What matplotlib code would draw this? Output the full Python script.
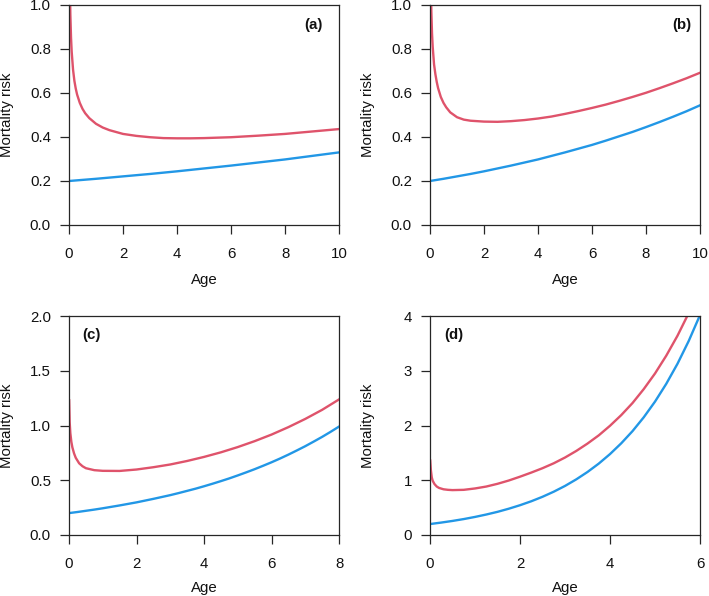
import matplotlib
matplotlib.use('Agg')
import matplotlib.pyplot as plt

plt.rcParams['font.family'] = ['Liberation Sans', 'DejaVu Sans']

RED = '#DF536B'
BLUE = '#2297E6'

# panel (a)
a_red_x = [0.03, 0.05, 0.075, 0.1, 0.15, 0.2, 0.25, 0.3, 0.4, 0.5, 0.6, 0.75, 1.0, 1.25, 1.5,
           2.0, 2.5, 3.0, 3.5, 4.0, 4.5, 5.0, 6.0, 7.0, 8.0, 9.0, 10.0]
a_red_y = [1.115, 0.958, 0.852, 0.787, 0.706, 0.655, 0.620, 0.593, 0.555, 0.528, 0.508, 0.486, 0.460, 0.443, 0.431,
           0.414, 0.405, 0.399, 0.395, 0.394, 0.394, 0.395, 0.399, 0.406, 0.414, 0.425, 0.436]
a_blue_x = [0, 1, 2, 3, 4, 5, 6, 7, 8, 9, 10]
a_blue_y = [0.200, 0.210, 0.221, 0.232, 0.244, 0.257, 0.270, 0.284, 0.298, 0.314, 0.330]

# panel (b)
b_red_x = [0.03, 0.05, 0.075, 0.1, 0.15, 0.2, 0.25, 0.3, 0.4, 0.5, 0.6, 0.75, 1.0, 1.25, 1.5,
           2.0, 2.5, 3.0, 3.5, 4.0, 4.5, 5.0, 5.5, 6.0, 6.5, 7.0, 7.5, 8.0, 8.5, 9.0, 9.5, 10.0]
b_red_y = [1.12, 0.97, 0.87, 0.81, 0.73, 0.685, 0.650, 0.622, 0.582, 0.555, 0.535, 0.512, 0.490, 0.479, 0.474,
           0.470, 0.469, 0.472, 0.477, 0.484, 0.493, 0.505, 0.518, 0.532, 0.547, 0.564, 0.582, 0.601, 0.622,
           0.644, 0.667, 0.692]
b_blue_x = [0, 0.5, 1, 1.5, 2, 2.5, 3, 3.5, 4, 4.5, 5, 5.5, 6, 6.5, 7, 7.5, 8, 8.5, 9, 9.5, 10]
b_blue_y = [0.200, 0.210, 0.221, 0.232, 0.244, 0.257, 0.270, 0.284, 0.298, 0.314, 0.330, 0.347, 0.364,
            0.383, 0.403, 0.423, 0.445, 0.468, 0.492, 0.517, 0.544]

# panel (c)
c_red_x = [0.005, 0.02, 0.04, 0.07, 0.1, 0.15, 0.2, 0.3, 0.4, 0.5, 0.75, 1.0, 1.5, 2.0, 2.5,
           3.0, 3.5, 4.0, 4.5, 5.0, 5.5, 6.0, 6.5, 7.0, 7.5, 8.0]
c_red_y = [1.23, 1.03, 0.93, 0.85, 0.80, 0.745, 0.705, 0.655, 0.628, 0.610, 0.592, 0.586, 0.585, 0.598, 0.619,
           0.644, 0.676, 0.713, 0.755, 0.803, 0.857, 0.917, 0.985, 1.060, 1.143, 1.238]
c_blue_x = [0, 0.25, 0.5, 0.75, 1, 1.25, 1.5, 1.75, 2, 2.25, 2.5, 2.75, 3, 3.25, 3.5, 3.75, 4,
            4.25, 4.5, 4.75, 5, 5.25, 5.5, 5.75, 6, 6.25, 6.5, 6.75, 7, 7.25, 7.5, 7.75, 8]
c_blue_y = [0.200, 0.210, 0.221, 0.232, 0.244, 0.257, 0.270, 0.284, 0.298, 0.314, 0.330, 0.347, 0.364,
            0.383, 0.403, 0.423, 0.445, 0.468, 0.492, 0.517, 0.544, 0.572, 0.601, 0.632, 0.664, 0.698,
            0.734, 0.772, 0.811, 0.853, 0.896, 0.942, 0.990]

# panel (d)
d_red_x = [0.005, 0.02, 0.04, 0.06, 0.1, 0.15, 0.2, 0.3, 0.4, 0.5, 0.75, 1.0, 1.25, 1.5, 1.75, 2.0,
           2.25, 2.5, 2.75, 3.0, 3.25, 3.5, 3.75, 4.0, 4.25, 4.5, 4.75, 5.0, 5.25, 5.5, 5.75]
d_red_y = [1.36, 1.18, 1.05, 0.99, 0.93, 0.885, 0.86, 0.835, 0.825, 0.820, 0.825, 0.850, 0.885, 0.935,
           0.995, 1.065, 1.14, 1.22, 1.31, 1.415, 1.535, 1.67, 1.82, 1.995, 2.19, 2.41, 2.665, 2.95,
           3.275, 3.64, 4.055]
d_blue_x = [0, 0.25, 0.5, 0.75, 1, 1.25, 1.5, 1.75, 2, 2.25, 2.5, 2.75, 3, 3.25, 3.5, 3.75, 4,
            4.25, 4.5, 4.75, 5, 5.25, 5.5, 5.75, 6]
d_blue_y = [0.200, 0.227, 0.257, 0.291, 0.330, 0.374, 0.423, 0.480, 0.544, 0.616, 0.698, 0.791, 0.896,
            1.016, 1.151, 1.304, 1.478, 1.675, 1.897, 2.150, 2.436, 2.761, 3.128, 3.545, 4.017]

a_xticks = [0, 2, 4, 6, 8, 10]
a_yticks = [0.0, 0.2, 0.4, 0.6, 0.8, 1.0]
c_xticks = [0, 2, 4, 6, 8]
c_yticks = [0.0, 0.5, 1.0, 1.5, 2.0]
d_xticks = [0, 2, 4, 6]
d_yticks = [0, 1, 2, 3, 4]

FS = 10.8
W, H = 709, 596

fig = plt.figure(figsize=(W / 100, H / 100), dpi=100)


def panel(rect, rx, ry, bx, by, xticks, yticks, ylabels, tag, tagpos, agey):
    ax = fig.add_axes(rect)
    ax.plot(bx, by, color=BLUE, lw=1.7, solid_joinstyle='round')
    ax.plot(rx, ry, color=RED, lw=1.7, solid_joinstyle='round')
    ax.set_xlim(xticks[0], xticks[-1])
    ax.set_ylim(yticks[0], yticks[-1])
    ax.set_xticks(xticks)
    ax.set_yticks(yticks)
    ax.set_xticklabels([str(t) for t in xticks])
    ax.set_yticklabels(ylabels)
    for s in ax.spines.values():
        s.set_color('#262626')
        s.set_linewidth(0.9)
    ax.tick_params(axis='both', direction='out', length=6.5, width=0.9, color='#262626',
                   labelsize=FS, labelcolor='#111111')
    ax.tick_params(axis='x', pad=9.2)
    ax.tick_params(axis='y', pad=6.5)
    ax.text(-0.228, 0.5, 'Mortality risk', transform=ax.transAxes, rotation=90,
            ha='center', va='center', fontsize=FS, color='#111111')
    ax.text(0.5, agey, 'Age', transform=ax.transAxes, ha='center', va='center',
            fontsize=FS, color='#111111')
    ax.text(tagpos[0], tagpos[1], tag, transform=ax.transAxes, ha='center', va='center',
            fontsize=FS, fontweight='bold', color='#111111')
    return ax


panel([69 / W, 1 - 225 / H, 270 / W, 220 / H], a_red_x, a_red_y, a_blue_x, a_blue_y,
      a_xticks, a_yticks, ['%.1f' % v for v in a_yticks], '(a)', (0.907, 0.909), -0.25)
panel([430 / W, 1 - 225 / H, 270 / W, 220 / H], b_red_x, b_red_y, b_blue_x, b_blue_y,
      a_xticks, a_yticks, ['%.1f' % v for v in a_yticks], '(b)', (0.931, 0.909), -0.25)
panel([69 / W, 1 - 535 / H, 270 / W, 219 / H], c_red_x, c_red_y, c_blue_x, c_blue_y,
      c_xticks, c_yticks, ['%.1f' % v for v in c_yticks], '(c)', (0.082, 0.913), -0.244)
panel([430 / W, 1 - 535 / H, 270 / W, 219 / H], d_red_x, d_red_y, d_blue_x, d_blue_y,
      d_xticks, d_yticks, [str(v) for v in d_yticks], '(d)', (0.087, 0.913), -0.244)

fig.savefig('out.png', dpi=100)
